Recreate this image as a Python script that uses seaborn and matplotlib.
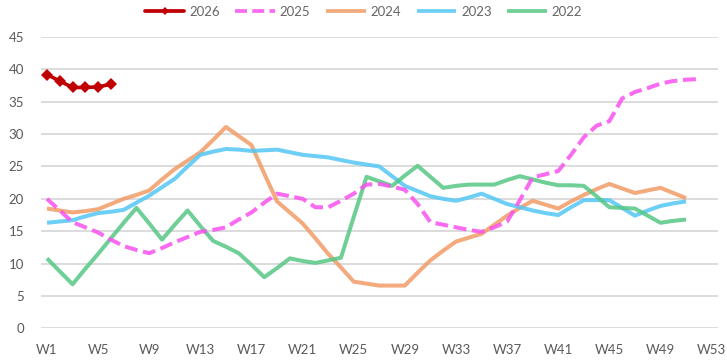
import matplotlib
matplotlib.use("Agg")
import matplotlib.pyplot as plt
import seaborn as sns
import numpy as np
import pandas as pd

weeks_all = list(range(1, 54))
tick_weeks = list(range(1, 54, 4))
tick_labels = [f"W{w}" for w in tick_weeks]
y_ticks = list(range(0, 50, 5))

v2026 = [39.2, 38.2, 37.2, 37.2, 37.3, 37.7]

v2025 = [20.0, 18.2, 16.4, 15.6, 14.8, 13.7, 12.7, 12.1, 11.6, 12.4,
         13.3, 14.1, 14.9, 15.2, 15.6, 16.8, 17.9, 19.4, 20.8, 20.4,
         20.0, 18.7, 18.7, 19.7, 20.8, 22.2, 22.3, 21.9, 21.4, 19.2,
         16.4, 16.0, 15.6, 15.2, 14.9, 15.6, 16.5, 19.8, 23.3, 23.8,
         24.3, 26.8, 29.5, 31.3, 32.0, 35.5, 36.5, 37.1, 37.8, 38.2,
         38.4, 38.5]

v2024 = [18.5, 18.2, 17.9, 18.1, 18.4, 19.2, 20.0, 20.6, 21.3, 23.0,
         24.6, 25.9, 27.2, 29.1, 31.1, 29.7, 28.3, 23.9, 19.6, 17.9,
         16.2, 13.9, 11.5, 9.4, 7.2, 6.9, 6.6, 6.6, 6.6, 8.6,
         10.5, 12.0, 13.4, 14.0, 14.6, 16.0, 17.4, 18.6, 19.7, 19.1,
         18.5, 19.6, 20.6, 21.5, 22.3, 21.6, 20.9, 21.3, 21.7, 20.9,
         20.1]

v2023 = [16.3, 16.5, 16.7, 17.3, 17.8, 18.0, 18.3, 19.4, 20.5, 21.8,
         23.1, 25.0, 26.8, 27.3, 27.7, 27.6, 27.4, 27.5, 27.6, 27.2,
         26.8, 26.6, 26.4, 26.0, 25.6, 25.3, 25.0, 23.5, 22.0, 21.2,
         20.4, 20.0, 19.7, 20.2, 20.8, 20.0, 19.2, 18.7, 18.2, 17.8,
         17.5, 18.7, 19.8, 19.8, 19.8, 18.6, 17.4, 18.2, 18.9, 19.3,
         19.6]

v2022 = [10.8, 8.8, 6.8, 9.2, 11.5, 13.9, 16.3, 18.6, 16.2, 13.7,
         16.0, 18.2, 15.8, 13.5, 12.6, 11.6, 9.8, 7.9, 9.3, 10.8,
         10.4, 10.1, 10.5, 10.9, 17.2, 23.4, 22.7, 22.0, 23.6, 25.1,
         23.4, 21.7, 22.0, 22.2, 22.2, 22.2, 22.9, 23.5, 23.0, 22.5,
         22.1, 22.1, 22.0, 20.4, 18.7, 18.6, 18.5, 17.4, 16.3, 16.6,
         16.8]

series = [
    ("2026", v2026, "#C00000"),
    ("2025", v2025, "#F951EE"),
    ("2024", v2024, "#F19B66"),
    ("2023", v2023, "#54C7F5"),
    ("2022", v2022, "#56C785"),
]

sns.set_theme(style="white")
plt.rcParams["font.family"] = ["Lato", "DejaVu Sans"]

fig = plt.figure(figsize=(7.27, 3.61), dpi=100)
ax = fig.add_axes([40.6 / 727, 1 - 328.3 / 361, (718 - 40.6) / 727, (328.3 - 37) / 361])

for name, vals, col in series:
    df = pd.DataFrame({"week": weeks_all[:len(vals)], "value": vals})
    if name == "2026":
        sns.lineplot(data=df, x="week", y="value", ax=ax, color=col, lw=2.6,
                     marker="D", markersize=6, markeredgewidth=0, label=name, zorder=6)
    elif name == "2025":
        sns.lineplot(data=df, x="week", y="value", ax=ax, color=col, lw=2.9,
                     alpha=0.85, label=name, zorder=4)
        ax.lines[-1].set_dashes([3.2, 1.4])
        ax.lines[-1].set_dash_capstyle("butt")
    else:
        sns.lineplot(data=df, x="week", y="value", ax=ax, color=col, lw=2.9,
                     alpha=0.85, label=name, zorder=3)
        ax.lines[-1].set_solid_capstyle("butt")

ax.set_xlim(0.5, 53.5)
ax.set_ylim(0, 45)
ax.set_xticks(tick_weeks)
ax.set_xticklabels(tick_labels)
ax.set_yticks(y_ticks)
ax.set_xlabel("")
ax.set_ylabel("")
ax.grid(axis="y", color="#D9D9D9", lw=1.3)
ax.grid(axis="x", visible=False)
ax.set_axisbelow(True)
for s in ax.spines.values():
    s.set_visible(False)
ax.tick_params(axis="both", length=0, labelsize=9.5, colors="#595959")
ax.tick_params(axis="y", pad=12)
ax.tick_params(axis="x", pad=11)

leg = ax.legend(loc="center", bbox_to_anchor=(0.5, 1 - 12 / 361), bbox_transform=fig.transFigure,
                ncol=5, frameon=False, fontsize=9.5, handlelength=3.0, handletextpad=0.35,
                columnspacing=1.2, labelcolor="#666666", numpoints=1)
for h in leg.get_lines():
    h.set_linewidth(2.7)
    h.set_markersize(4)

fig.savefig("out.png", dpi=100)
